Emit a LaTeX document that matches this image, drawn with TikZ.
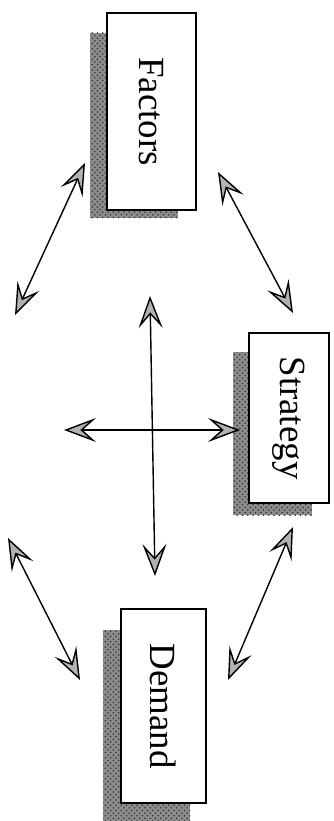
\documentclass[tikz,border=0pt]{standalone}
\usepackage{fontspec}
\setmainfont{Liberation Serif}
\usetikzlibrary{arrows.meta,patterns}

\begin{document}
\begin{tikzpicture}[x=0.02cm, y=-0.02cm,
    box/.style={draw, line width=1pt, fill=white, rotate=-90, inner sep=0pt,
      font=\fontsize{21}{25}\selectfont},
    grain/.style={fill=black!45, postaction={pattern=crosshatch dots, pattern color=black!80}},
    link/.style={line width=0.8pt, {Stealth[length=0.64cm, width=0.48cm, inset=0.27cm, fill=gray!60]}-{Stealth[length=0.64cm, width=0.48cm, inset=0.27cm, fill=gray!60]}}]
  \useasboundingbox (0,0) rectangle (334,821);

  % speckled shadows behind the boxes
  \fill[grain] (90,33) rectangle (178,218);
  \fill[grain] (233,352) rectangle (312,515);
  \fill[grain] (103,630) rectangle (190,821);

  \node[box, minimum width=3.94cm, minimum height=1.78cm] (factors) at (151.5,111.5) {Factors};
  \node[box, minimum width=3.40cm, minimum height=1.60cm] (strategy) at (289,418) {Strategy};
  \node[box, minimum width=3.88cm, minimum height=1.70cm] (demand) at (163.5,706) {Demand};

  % free ends of the arrows
  \coordinate (fl1) at (85,163);   \coordinate (fl2) at (15,315);
  \coordinate (fs1) at (218,172);  \coordinate (fs2) at (293,313);
  \coordinate (dl1) at (8,538);    \coordinate (dl2) at (80,680);
  \coordinate (sd1) at (293,527);  \coordinate (sd2) at (228,680);
  \coordinate (up) at (150,296);   \coordinate (down) at (155,576);
  \coordinate (left) at (64,430);  \coordinate (right) at (240,430);

  \draw[link] (fl1) -- (fl2);
  \draw[link] (fs1) -- (fs2);
  \draw[link] (dl1) -- (dl2);
  \draw[link] (sd1) -- (sd2);
  \draw[link] (up) -- (down);
  \draw[link] (left) -- (right);
\end{tikzpicture}
\end{document}
